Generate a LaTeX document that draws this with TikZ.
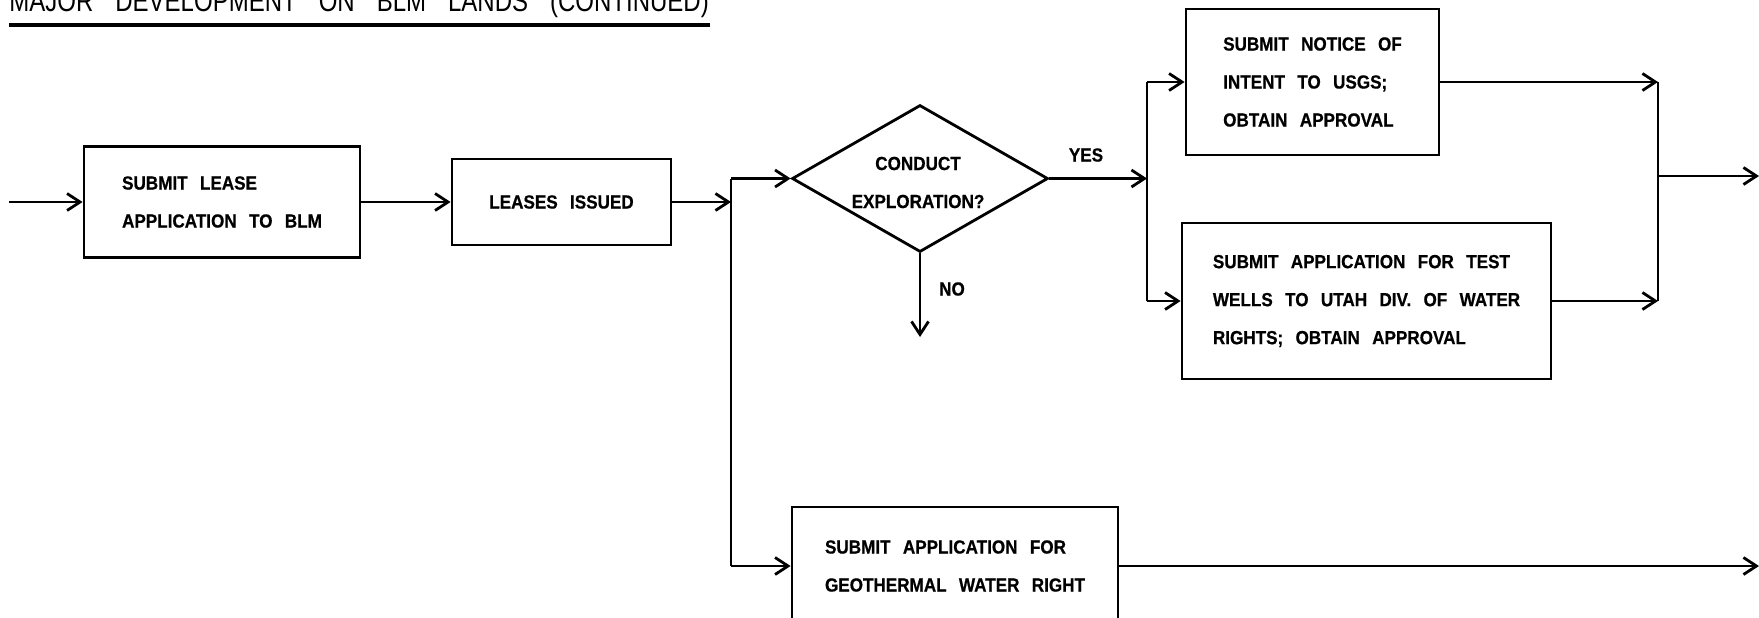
\documentclass[tikz,border=0pt]{standalone}
\usepackage{fontspec}
\usetikzlibrary{arrows.meta,shapes.geometric}
\newfontfamily\labelfont{Liberation Sans}[FakeStretch=0.9,WordSpace=2.6,BoldFeatures={FakeBold=0.6}]
\newfontfamily\headfont{Liberation Sans}[FakeStretch=0.8,WordSpace=3.3]

\tikzset{
  flow/.style={line width=1.4pt},
  arr/.style={flow,-{Straight Barb[length=6.5pt,width=8.5pt]}},
  boxtext/.style={font=\labelfont\bfseries\fontsize{9.5}{19}\selectfont},
  stepbox/.style={boxtext,draw,line width=1.4pt,inner sep=0pt,align=left},
  decision/.style={draw,diamond,line width=1.4pt,inner sep=0pt},
  tag/.style={boxtext,inner sep=0pt}
}

\begin{document}
\begin{tikzpicture}[x=0.5pt,y=-0.5pt]
\useasboundingbox (0,0) rectangle (1759,617);

% heading, underlined
\node[anchor=base west,inner sep=0pt,font=\headfont\fontsize{15}{18}\selectfont] (title) at (9,11)
  {MAJOR DEVELOPMENT ON BLM LANDS (CONTINUED)};
\coordinate (ulA) at (9,25);
\coordinate (ulB) at (710,25);
\draw[line width=1.6pt] (ulA) -- (ulB);

% process boxes
\node[stepbox,minimum width=138pt,minimum height=55.5pt] (lease) at (222,202)
  {SUBMIT LEASE\\APPLICATION TO BLM};
\node[stepbox,minimum width=109.5pt,minimum height=43pt] (issued) at (561.5,202)
  {LEASES ISSUED};
\node[decision,minimum width=128pt,minimum height=73.5pt,
      label={[boxtext,align=center,inner sep=0pt,yshift=-2pt,xshift=-1pt]center:CONDUCT\\EXPLORATION?}]
  (explore) at (920,178.5) {};
\node[stepbox,minimum width=126.5pt,minimum height=73pt] (usgs) at (1312.5,82)
  {SUBMIT NOTICE OF\\INTENT TO USGS;\\OBTAIN APPROVAL};
\node[stepbox,minimum width=184.5pt,minimum height=78pt] (wells) at (1366.5,301)
  {SUBMIT APPLICATION FOR TEST\\WELLS TO UTAH DIV. OF WATER\\RIGHTS; OBTAIN APPROVAL};
\node[stepbox,minimum width=163pt,minimum height=59pt] (geo) at (955,566)
  {SUBMIT APPLICATION FOR\\GEOTHERMAL WATER RIGHT};

% branch labels
\node[tag] (yes) at (1086,155) {YES};
\node[tag] (no) at (952,289) {NO};

% junction points and free ends
\coordinate (start) at (9,202);
\coordinate (splitA) at (731,202);
\coordinate (splitTop) at (731,178.5);
\coordinate (splitBot) at (731,566);
\coordinate (yesEnd) at (1147,178.5);
\coordinate (yesTop) at (1147,82);
\coordinate (yesBot) at (1147,301);
\coordinate (joinTop) at (1658,82);
\coordinate (joinBot) at (1658,301);
\coordinate (joinMid) at (1658,176);
\coordinate (outA) at (1759,176);
\coordinate (outB) at (1759,566);
\coordinate (noEnd) at (920,337);

% connectors
\draw[arr] (start) -- (lease.west);
\draw[arr] (lease.east) -- (issued.west);
\draw[arr] (issued.east) -- (splitA);
\draw[flow] (splitTop) -- (splitBot);
\draw[arr] (splitTop) -- (explore.west);
\draw[arr] (splitBot) -- (geo.west);
\draw[arr] (explore.south) -- (noEnd);
\draw[arr] (explore.east) -- (yesEnd);
\draw[flow] (yesTop) -- (yesBot);
\draw[arr] (yesTop) -- (usgs.west);
\draw[arr] (yesBot) -- (wells.west);
\draw[arr] (usgs.east) -- (joinTop);
\draw[arr] (wells.east) -- (joinBot);
\draw[flow] (joinTop) -- (joinBot);
\draw[arr] (joinMid) -- (outA);
\draw[arr] (geo.east) -- (outB);
\end{tikzpicture}
\end{document}
